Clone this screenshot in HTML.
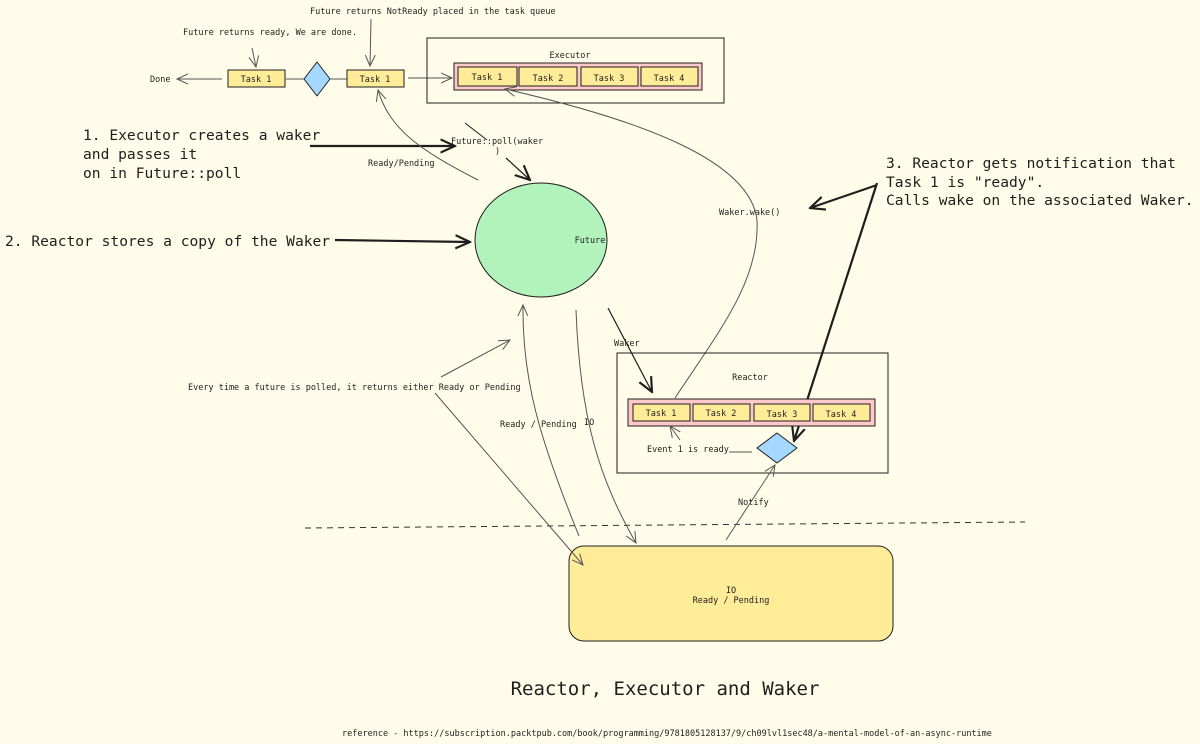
<!DOCTYPE html>
<html><head><meta charset="utf-8"><style>
html,body{margin:0;padding:0;background:#fffde9;}
svg{display:block}
text{font-family:"DejaVu Sans Mono","Liberation Mono",monospace;fill:#1e1e1e}
.s{font-size:8.5px}
.b{font-size:14.6px}
</style></head><body>
<svg width="1200" height="744" viewBox="0 0 1200 744" xmlns="http://www.w3.org/2000/svg">
<defs>
<marker id="a" viewBox="0 0 12 12" refX="11" refY="6" markerWidth="12" markerHeight="12" markerUnits="userSpaceOnUse" orient="auto"><path d="M0,1 L11,6 L0,11" fill="none" stroke="#555" stroke-width="1"/></marker>
<marker id="ab" viewBox="0 0 12 12" refX="11" refY="6" markerWidth="16" markerHeight="16" markerUnits="userSpaceOnUse" orient="auto"><path d="M0,1 L11,6 L0,11" fill="none" stroke="#1e1e1e" stroke-width="1.6"/></marker>
</defs>
<rect width="1200" height="744" fill="#fffde9"/>

<text class="s" x="310" y="14">Future returns NotReady placed in the task queue</text>
<text class="s" x="183" y="35">Future returns ready, We are done.</text>
<line x1="252" y1="48" x2="256" y2="67" stroke="#555" marker-end="url(#a)"/>
<line x1="371" y1="19" x2="370" y2="66" stroke="#555" marker-end="url(#a)"/>
<text class="s" x="150" y="82">Done</text>
<line x1="222" y1="79" x2="177" y2="79" stroke="#555" marker-end="url(#a)"/>
<rect x="228" y="70" width="57" height="17" fill="#ffec99" stroke="#1e1e1e"/>
<text class="s" x="256" y="82" text-anchor="middle">Task 1</text>
<line x1="286" y1="79" x2="304" y2="79" stroke="#555"/>
<path d="M317,62 L330,79 L317,96 L304,79 Z" fill="#a5d8ff" stroke="#1e1e1e" stroke-linejoin="round"/>
<line x1="330" y1="79" x2="347" y2="79" stroke="#555"/>
<rect x="347" y="70" width="57" height="17" fill="#ffec99" stroke="#1e1e1e"/>
<text class="s" x="375" y="82" text-anchor="middle">Task 1</text>
<line x1="408" y1="78" x2="452" y2="78" stroke="#555" marker-end="url(#a)"/>

<rect x="427" y="38" width="297" height="65" fill="none" stroke="#1e1e1e"/>
<text class="s" x="570" y="58" text-anchor="middle">Executor</text>
<rect x="454" y="63" width="248" height="27" fill="#ffc9c9" stroke="#1e1e1e"/>
<rect x="458" y="67" width="59" height="19" fill="#ffec99" stroke="#1e1e1e"/>
<text class="s" x="487" y="80" text-anchor="middle">Task 1</text>
<rect x="519" y="67" width="58" height="19" fill="#ffec99" stroke="#1e1e1e"/>
<text class="s" x="548" y="81" text-anchor="middle">Task 2</text>
<rect x="581" y="67" width="57" height="19" fill="#ffec99" stroke="#1e1e1e"/>
<text class="s" x="609" y="81" text-anchor="middle">Task 3</text>
<rect x="641" y="67" width="57" height="19" fill="#ffec99" stroke="#1e1e1e"/>
<text class="s" x="669" y="81" text-anchor="middle">Task 4</text>

<text class="b" x="83" y="140">1. Executor creates a waker</text>
<text class="b" x="83" y="159">and passes it</text>
<text class="b" x="83" y="178">on in Future::poll</text>
<line x1="310" y1="146" x2="455" y2="146" stroke="#1e1e1e" stroke-width="2.2" marker-end="url(#ab)"/>
<text class="s" x="451" y="144">Future::poll(waker</text>
<text class="s" x="495" y="154">)</text>
<line x1="465" y1="123" x2="487" y2="140" stroke="#1e1e1e"/>
<line x1="506" y1="158" x2="530" y2="180" stroke="#1e1e1e" stroke-width="1.2" marker-end="url(#ab)"/>
<text class="s" x="368" y="166">Ready/Pending</text>
<path d="M478,180 C420,150 390,130 378,90" fill="none" stroke="#555" marker-end="url(#a)"/>

<ellipse cx="541" cy="240" rx="66" ry="57" fill="#b2f2bb" stroke="#1e1e1e"/>
<text class="s" x="590" y="243" text-anchor="middle">Future</text>
<text class="b" x="5" y="246">2. Reactor stores a copy of the Waker</text>
<line x1="335" y1="240" x2="470" y2="242" stroke="#1e1e1e" stroke-width="2.2" marker-end="url(#ab)"/>

<text class="b" x="886" y="168">3. Reactor gets notification that</text>
<text class="b" x="886" y="187">Task 1 is "ready".</text>
<text class="b" x="886" y="205">Calls wake on the associated Waker.</text>
<text class="s" x="719" y="215">Waker.wake()</text>
<line x1="877" y1="185" x2="810" y2="208" stroke="#1e1e1e" stroke-width="2" marker-end="url(#ab)"/>
<line x1="877" y1="183" x2="794" y2="441" stroke="#1e1e1e" stroke-width="2.2" marker-end="url(#ab)"/>
<path d="M675,398 C720,330 760,280 757,220 C750,160 640,120 505,89" fill="none" stroke="#555" marker-end="url(#a)"/>

<rect x="617" y="353" width="271" height="120" fill="none" stroke="#1e1e1e"/>
<text class="s" x="750" y="380" text-anchor="middle">Reactor</text>
<rect x="628" y="399" width="247" height="27" fill="#ffc9c9" stroke="#1e1e1e"/>
<rect x="633" y="404" width="57" height="17" fill="#ffec99" stroke="#1e1e1e"/>
<text class="s" x="661" y="416" text-anchor="middle">Task 1</text>
<rect x="693" y="404" width="57" height="17" fill="#ffec99" stroke="#1e1e1e"/>
<text class="s" x="721" y="416" text-anchor="middle">Task 2</text>
<rect x="754" y="404" width="56" height="17" fill="#ffec99" stroke="#1e1e1e"/>
<text class="s" x="782" y="417" text-anchor="middle">Task 3</text>
<rect x="813" y="404" width="57" height="17" fill="#ffec99" stroke="#1e1e1e"/>
<text class="s" x="841" y="417" text-anchor="middle">Task 4</text>
<path d="M777,433 L797,448 L777,463 L757,448 Z" fill="#a5d8ff" stroke="#1e1e1e" stroke-linejoin="round"/>
<text class="s" x="647" y="452">Event 1 is ready</text>
<line x1="729" y1="452" x2="752" y2="452" stroke="#555"/>
<line x1="680" y1="440" x2="670" y2="426" stroke="#555" marker-end="url(#a)"/>
<text class="s" x="614" y="346">Waker</text>
<line x1="608" y1="308" x2="652" y2="392" stroke="#1e1e1e" stroke-width="1.2" marker-end="url(#ab)"/>

<line x1="305" y1="528" x2="1025" y2="522" stroke="#333" stroke-dasharray="6,5"/>

<rect x="569" y="546" width="324" height="95" rx="15" fill="#ffec99" stroke="#1e1e1e"/>
<text class="s" x="731" y="593" text-anchor="middle">IO</text>
<text class="s" x="731" y="603" text-anchor="middle">Ready / Pending</text>

<text class="s" x="188" y="390">Every time a future is polled, it returns either Ready or Pending</text>
<line x1="441" y1="377" x2="510" y2="340" stroke="#555" marker-end="url(#a)"/>
<text class="s" x="500" y="427">Ready / Pending</text>
<text class="s" x="584" y="425">IO</text>
<path d="M579,536 C540,440 522,380 523,305" fill="none" stroke="#555" marker-end="url(#a)"/>
<path d="M576,310 C580,420 600,480 636,543" fill="none" stroke="#555" marker-end="url(#a)"/>
<line x1="435" y1="393" x2="583" y2="565" stroke="#555" marker-end="url(#a)"/>
<text class="s" x="738" y="505">Notify</text>
<line x1="726" y1="540" x2="775" y2="465" stroke="#555" marker-end="url(#a)"/>

<text x="665" y="695" text-anchor="middle" style="font-size:19px">Reactor, Executor and Waker</text>
<text class="s" x="342" y="736">reference - https://subscription.packtpub.com/book/programming/9781805128137/9/ch09lvl1sec48/a-mental-model-of-an-async-runtime</text>
</svg>
</body></html>
